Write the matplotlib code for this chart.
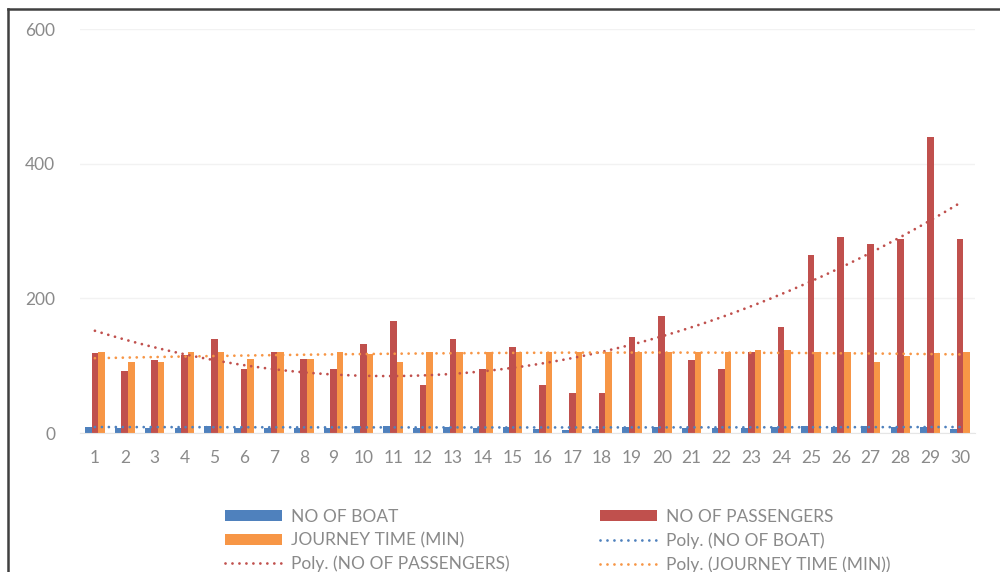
import numpy as np
import matplotlib
matplotlib.use("Agg")
import matplotlib.pyplot as plt
from matplotlib.lines import Line2D

plt.rcParams['font.family'] = ['Lato', 'DejaVu Sans']

# data
days = list(range(1, 31))
boats = [9, 8, 8, 8, 11, 8, 8, 8, 8, 11,
         11, 7, 9, 8, 9, 6, 5, 6, 9, 9,
         8, 8, 8, 9, 11, 9, 11, 9, 9, 6]
passengers = [119, 92, 108, 116, 140, 95, 120, 110, 95, 132,
              167, 72, 140, 95, 127, 72, 60, 60, 143, 174,
              108, 95, 120, 157, 264, 291, 280, 288, 439, 288]
journey = [120, 105, 105, 120, 120, 110, 120, 110, 120, 118,
           105, 120, 120, 120, 120, 120, 120, 120, 120, 120,
           120, 120, 123, 123, 120, 120, 105, 115, 119, 120]
y_ticks = [0, 200, 400, 600]

BLUE, RED, ORANGE = '#4F81BD', '#C0504D', '#F79646'
TXT = '#8a8a8a'

fig = plt.figure(figsize=(10, 5.72), dpi=100)
ax = fig.add_axes([0.080, 1 - 433 / 572, 0.895, (433 - 29) / 572])

x = np.array(days)
w = 0.22
b1 = ax.bar(x - w, boats, w, color=BLUE, zorder=2)
b2 = ax.bar(x, passengers, w, color=RED, zorder=2)
b3 = ax.bar(x + w, journey, w, color=ORANGE, zorder=2)

# polynomial (order 2) trendlines, like Excel's "Poly."
xs = np.linspace(1, 30, 200)
dots = (0, (0.01, 2.5))
trends = []
for vals, col in [(boats, BLUE), (passengers, RED), (journey, ORANGE)]:
    p = np.polyfit(x, vals, 2)
    ln, = ax.plot(xs, np.polyval(p, xs), color=col, lw=2.0,
                  linestyle=dots, dash_capstyle='round', zorder=3)
    trends.append(ln)

ax.set_xlim(0.5, 30.5)
ax.set_ylim(0, 600)
ax.set_yticks(y_ticks)
ax.set_xticks(days)
ax.tick_params(length=0, labelsize=12.5, colors=TXT)
ax.tick_params(axis='y', pad=18)
ax.tick_params(axis='x', pad=12)
ax.grid(axis='y', color='#F2F2F2', lw=1, zorder=0)
for s in ['top', 'right', 'left']:
    ax.spines[s].set_visible(False)
ax.spines['bottom'].set_color('#E6E6E6')

# legend: two columns placed by hand, Excel row order
kw = dict(frameon=False, fontsize=12.5, labelcolor=TXT, handlelength=3.3,
          handleheight=0.6, handletextpad=0.5, borderpad=0, borderaxespad=0,
          labelspacing=0.42, loc='upper left')
leg1 = fig.legend([b1, b3, trends[1]],
                  ['NO OF BOAT', 'JOURNEY TIME (MIN)', 'Poly. (NO OF PASSENGERS)'],
                  bbox_to_anchor=(0.225, 1 - 509 / 572), **kw)
leg2 = fig.legend([b2, trends[0], trends[2]],
                  ['NO OF PASSENGERS', 'Poly. (NO OF BOAT)', 'Poly. (JOURNEY TIME (MIN))'],
                  bbox_to_anchor=(0.600, 1 - 509 / 572), **kw)

# frame edge of the cropped chart
fig.add_artist(Line2D([0.0075, 0.0075], [0, 1 - 9 / 572], color='#404040', lw=1.8))
fig.add_artist(Line2D([0.0075, 1], [1 - 9 / 572, 1 - 9 / 572], color='#404040', lw=1.8))

fig.savefig('out.png', dpi=100)
